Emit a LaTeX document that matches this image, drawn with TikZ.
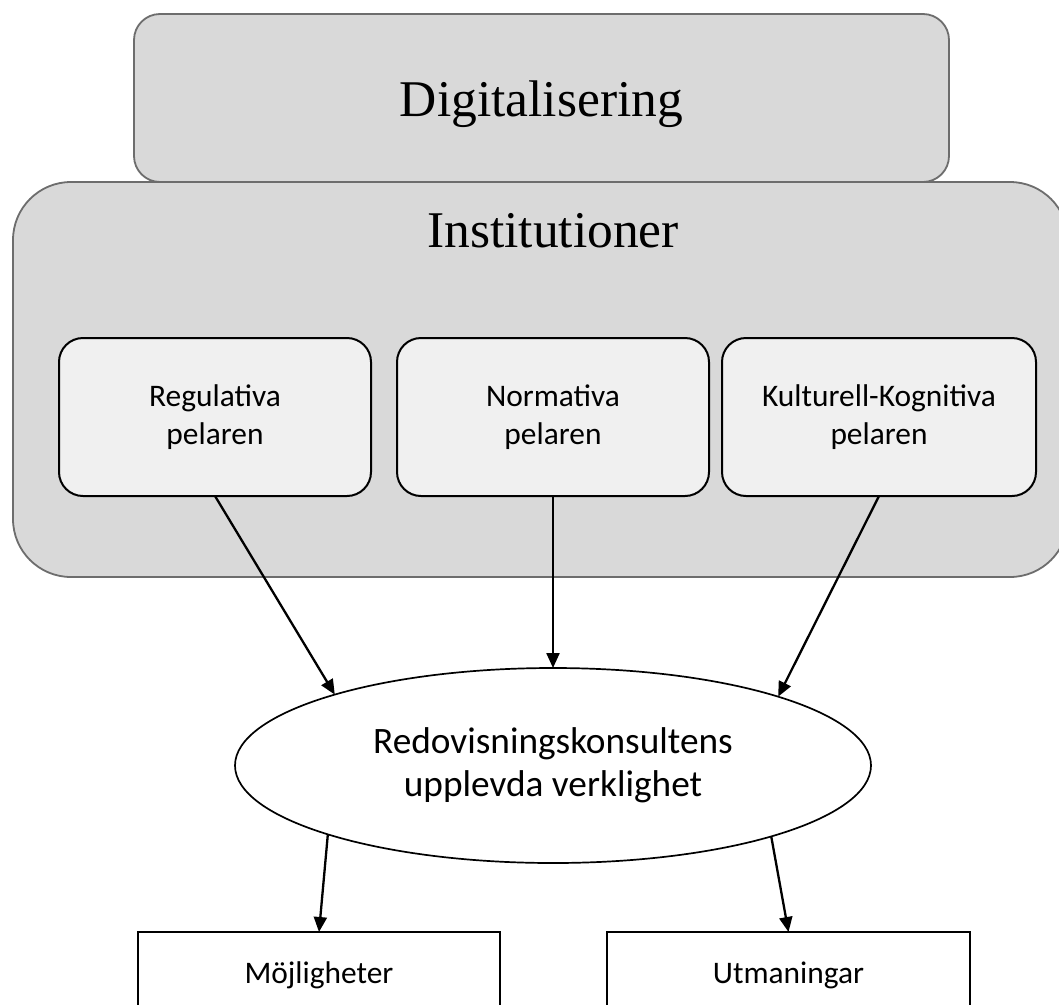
\documentclass[tikz,border=0pt]{standalone}
\usepackage{fontspec}
\setmainfont{Carlito}
\newfontfamily\titleserif{Liberation Serif}
\usetikzlibrary{arrows.meta,shapes.geometric}
\definecolor{outerfill}{HTML}{D9D9D9}
\definecolor{outerdraw}{HTML}{6D6D6D}
\definecolor{innerfill}{HTML}{F0F0F0}
\begin{document}
\begin{tikzpicture}[x=1pt,y=-1pt,
  outerbox/.style={draw=outerdraw, fill=outerfill, line width=1.8pt, inner sep=0pt, outer sep=0pt},
  titletext/.style={font=\titleserif\fontsize{51.5}{60}\selectfont, inner sep=0pt},
  pillar/.style={draw=black, fill=innerfill, line width=2pt, rounded corners=24pt,
    minimum height=158pt, inner sep=0pt, outer sep=0pt, align=center,
    font=\fontsize{31.4}{38}\selectfont},
  result/.style={draw=black, fill=white, line width=1.8pt, minimum width=362pt,
    minimum height=100pt, inner sep=0pt, outer sep=0pt, text height=20pt, text depth=18pt,
    font=\fontsize{31.4}{38}\selectfont},
  arr/.style={-{Triangle[length=15pt,width=13pt]}, line width=2.3pt, draw=black}
]
\useasboundingbox (0,0) rectangle (1059,1004);
\clip (0,0) rectangle (1059,1004);
\fill[white] (0,0) rectangle (1059,1004);

% outer boxes
\node[outerbox, rounded corners=26pt, minimum width=815pt, minimum height=168pt,
      titletext, text height=36pt, text depth=0pt] (dig) at (541.5,98) {Digitalisering};
\node[outerbox, rounded corners=58pt, minimum width=1055pt, minimum height=395pt] (inst) at (540.5,379.5) {};
\node[titletext, anchor=base] (insttitle) at (553,247) {Institutioner};

% pillars
\node[pillar, minimum width=312pt] (reg) at (215,417) {Regulativa\\pelaren};
\node[pillar, minimum width=312pt] (norm) at (553,417) {Normativa\\pelaren};
\node[pillar, minimum width=314pt] (kult) at (879,417) {Kulturell-Kognitiva\\pelaren};

% ellipse
\node[ellipse, draw=black, fill=white, line width=1.7pt, minimum width=636pt, minimum height=195pt,
      inner sep=0pt, outer sep=0pt, align=center, font=\fontsize{37.3}{43}\selectfont]
      (ell) at (553,765.5) {Redovisningskonsultens\\upplevda verklighet};

% result boxes
\node[result] (moj) at (319,982) {Möjligheter};
\node[result, minimum width=363pt] (utm) at (788.5,982) {Utmaningar};

% arrows
\draw[arr] (reg.south) -- (ell.162.7);
\draw[arr] (norm.south) -- (ell.north);
\draw[arr] (kult.south) -- (ell.17.3);
\draw[arr] (ell.197.2) -- (moj.north);
\draw[arr] (ell.342.8) -- (utm.north);
\end{tikzpicture}
\end{document}
